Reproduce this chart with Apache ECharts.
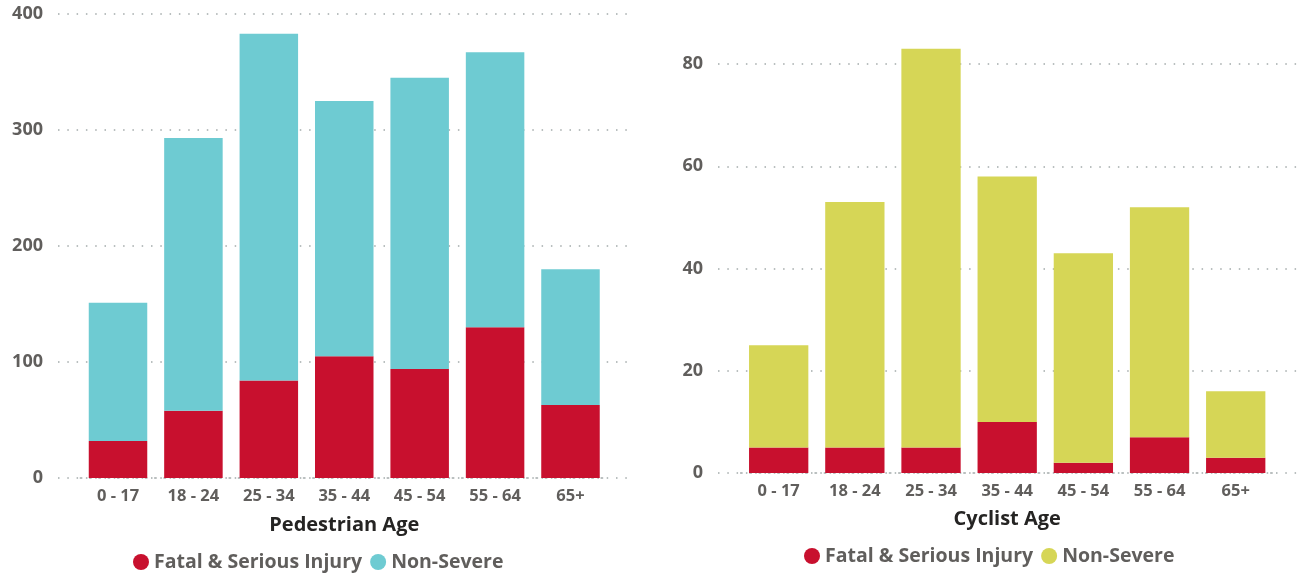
<!DOCTYPE html>
<html>
<head>
<meta charset="utf-8">
<script src="https://cdn.jsdelivr.net/npm/echarts@6/dist/echarts.min.js"></script>
<style>
html,body{margin:0;padding:0;background:#fff;}
#chart{width:1297px;height:575px;}
</style>
</head>
<body>
<div id="chart"></div>
<script>
const categories = ['0 - 17','18 - 24','25 - 34','35 - 44','45 - 54','55 - 64','65+'];
const pedFatal = [32, 58, 84, 105, 94, 130, 63];
const pedNonSevere = [119, 235, 299, 220, 251, 237, 117];
const cycFatal = [5, 5, 5, 10, 2, 7, 3];
const cycNonSevere = [20, 48, 78, 48, 41, 45, 13];
const pedYTicks = [0, 100, 200, 300, 400];
const cycYTicks = [0, 20, 40, 60, 80];
const seriesNames = ['Fatal & Serious Injury', 'Non-Severe'];
const axisTitles = ['Pedestrian Age', 'Cyclist Age'];

const RED = '#C8102E', CYAN = '#6ECBD2', YELLOW = '#D6D656';
const FONT = "'Open Sans', sans-serif";
const LABEL = '#605E5C';
const dotted = {color: '#a3aaaa', width: 1.5, type: [1.5, 7.8]};

const chart = echarts.init(document.getElementById('chart'), null, {renderer: 'canvas'});

const xLabel = {color: LABEL, fontFamily: FONT, fontWeight: 'bold', fontSize: 16.5, margin: 10};
const yLabel = {color: LABEL, fontFamily: FONT, fontWeight: 'bold', fontSize: 18, margin: 15};
const nameStyle = {color: '#252423', fontFamily: FONT, fontWeight: 'bold', fontSize: 20};
const legendText = {color: LABEL, fontFamily: FONT, fontWeight: 'bold', fontSize: 19.5};

const option = {
  animation: false,
  grid: [
    {left: 58, right: 670, top: 14, bottom: 97},
    {left: 80.3, right: 688.8, top: 14, bottom: 97},
    {left: 718, right: 0, top: 64, bottom: 102},
    {left: 740.6, right: 23.2, top: 12.9, bottom: 102}
  ],
  xAxis: [
    {gridIndex: 0, type: 'value', show: false, min: 0, max: 1},
    {gridIndex: 1, type: 'category', data: categories,
     axisLine: {show: true, lineStyle: dotted}, axisTick: {show: false},
     axisLabel: xLabel,
     name: axisTitles[0], nameLocation: 'middle', nameGap: 37, nameTextStyle: nameStyle},
    {gridIndex: 2, type: 'value', show: false, min: 0, max: 1},
    {gridIndex: 3, type: 'category', data: categories,
     axisLine: {show: true, lineStyle: dotted}, axisTick: {show: false},
     axisLabel: xLabel,
     name: axisTitles[1], nameLocation: 'middle', nameGap: 36, nameTextStyle: nameStyle}
  ],
  yAxis: [
    {gridIndex: 0, type: 'value', min: pedYTicks[0], max: pedYTicks[pedYTicks.length-1],
     interval: pedYTicks[1]-pedYTicks[0],
     axisLine: {show: false}, axisTick: {show: false},
     splitLine: {show: true, lineStyle: dotted}, axisLabel: yLabel},
    {gridIndex: 1, type: 'value', show: false, min: 0, max: 400, splitLine: {show: false}},
    {gridIndex: 2, type: 'value', min: cycYTicks[0], max: cycYTicks[cycYTicks.length-1],
     interval: cycYTicks[1]-cycYTicks[0],
     axisLine: {show: false}, axisTick: {show: false},
     splitLine: {show: true, lineStyle: dotted}, axisLabel: yLabel},
    {gridIndex: 3, type: 'value', show: false, min: 0, max: 90, splitLine: {show: false}}
  ],
  legend: [
    {left: 133, top: 552, padding: 0, icon: 'circle', itemWidth: 16, itemHeight: 16, itemGap: 8,
     textStyle: legendText,
     data: [{name: seriesNames[0], itemStyle: {color: RED}}, {name: seriesNames[1], itemStyle: {color: CYAN}}]},
    {left: 804, top: 546, padding: 0, icon: 'circle', itemWidth: 16, itemHeight: 16, itemGap: 8,
     textStyle: legendText,
     data: [{name: seriesNames[0], itemStyle: {color: RED}}, {name: seriesNames[1] + ' ', itemStyle: {color: YELLOW}}]}
  ],
  series: [
    {type: 'bar', name: seriesNames[0], xAxisIndex: 1, yAxisIndex: 1, stack: 'ped', data: pedFatal,
     barWidth: 58.5, itemStyle: {color: RED}},
    {type: 'bar', name: seriesNames[1], xAxisIndex: 1, yAxisIndex: 1, stack: 'ped', data: pedNonSevere,
     barWidth: 58.5, itemStyle: {color: CYAN}},
    {type: 'bar', name: seriesNames[0], xAxisIndex: 3, yAxisIndex: 3, stack: 'cyc', data: cycFatal,
     barWidth: 59.3, itemStyle: {color: RED}},
    {type: 'bar', name: seriesNames[1] + ' ', xAxisIndex: 3, yAxisIndex: 3, stack: 'cyc', data: cycNonSevere,
     barWidth: 59.3, itemStyle: {color: YELLOW}}
  ]
};
chart.setOption(option);
</script>
</body>
</html>
